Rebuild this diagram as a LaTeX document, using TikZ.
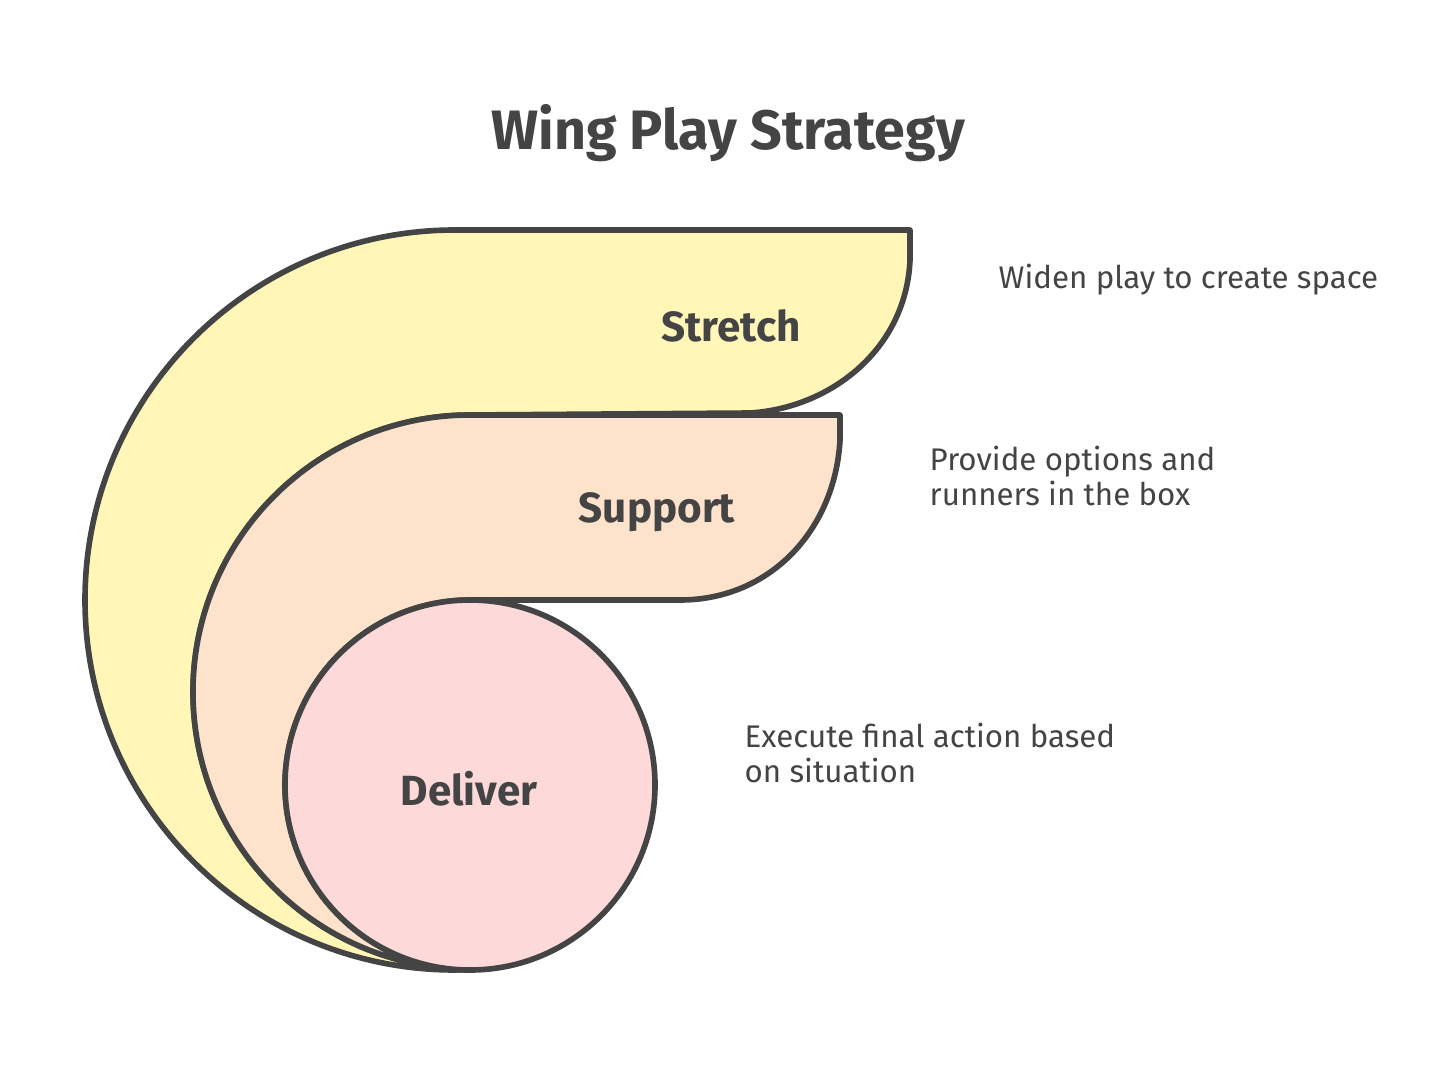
\documentclass[tikz,border=0pt]{standalone}
\usepackage{fontspec}
\setmainfont{Fira Sans}
\usepackage{xcolor}
\usetikzlibrary{positioning}
\definecolor{ink}{HTML}{444444}
\definecolor{stretchfill}{HTML}{FFF6B8}
\definecolor{supportfill}{HTML}{FDE3CB}
\definecolor{deliverfill}{HTML}{FDD9D9}

\begin{document}
\begin{tikzpicture}[
    band/.style={draw=ink, line width=1.6pt, line join=round},
    stage/.style={font=\bfseries\fontsize{12}{14}\selectfont, text=ink},
    note/.style={anchor=west, inner sep=0pt, align=left, font=\fontsize{8.9}{9.7}\selectfont, text=ink}
]
    \useasboundingbox (0,0) rectangle (14.56,-10.86);
    \node[font=\bfseries\fontsize{15.8}{18}\selectfont, text=ink] (title) at (7.28,-1.33) {Wing Play Strategy};

    % outer band
    \draw[band, fill=stretchfill] (4.55,-2.30) -- (9.10,-2.30) -- (9.10,-2.60)
        .. controls (9.06,-3.50) and (8.30,-4.08) .. (7.50,-4.13) -- (4.70,-4.15)
        arc[start angle=90, end angle=270, radius=2.77] -- (4.55,-9.70)
        arc[start angle=270, end angle=90, radius=3.70] -- cycle;
    % middle band
    \draw[band, fill=supportfill] (4.70,-4.15) -- (8.40,-4.15) -- (8.40,-4.40)
        .. controls (8.35,-5.30) and (7.70,-6.00) .. (6.80,-6.00) -- (4.70,-6.00)
        arc[start angle=90, end angle=270, radius=1.85] -- (4.70,-9.69)
        arc[start angle=270, end angle=90, radius=2.77] -- cycle;
    % core
    \draw[band, fill=deliverfill] (4.70,-7.85) circle[radius=1.85];

    \foreach \name/\x/\y in {Stretch/7.31/3.26, Support/6.57/5.12, Deliver/4.69/7.89} {
        \node[stage] (\name) at (\x,-\y) {\name};
    }

    \node[note] (widen) at (9.98,-2.80) {Widen play to create space};
    \node[note] (provide) at (9.29,-4.76) {Provide options and\\runners in the box};
    \node[note] (execute) at (7.44,-7.53) {Execute final action based\\on situation};
\end{tikzpicture}
\end{document}
